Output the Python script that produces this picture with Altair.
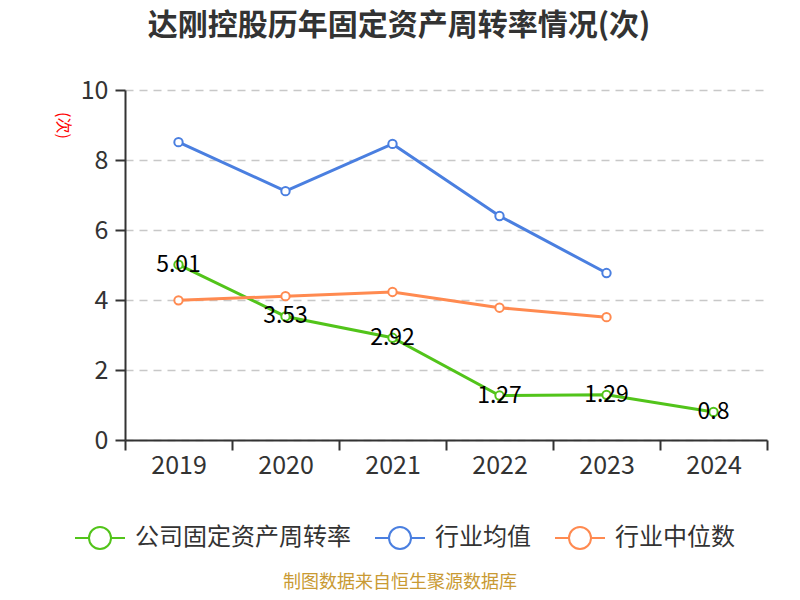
import altair as alt
import pandas as pd

years = ["2019", "2020", "2021", "2022", "2023", "2024"]
company = [5.01, 3.53, 2.92, 1.27, 1.29, 0.8]
industry_avg = [8.51, 7.11, 8.46, 6.40, 4.77, None]
industry_median = [3.99, 4.11, 4.23, 3.78, 3.51, None]
series_names = ["公司固定资产周转率", "行业均值", "行业中位数"]
colors = ["#52c41a", "#4a7fe0", "#ff8a50"]
title_text = "达刚控股历年固定资产周转率情况(次)"
source_text = "制图数据来自恒生聚源数据库"
y_ticks = [0, 2, 4, 6, 8, 10]

FONT = "Noto Sans CJK SC"

rows = []
for name, vals in zip(series_names, [company, industry_avg, industry_median]):
    for yr, v in zip(years, vals):
        if v is not None:
            rows.append({"year": yr, "value": v, "series": name})
df = pd.DataFrame(rows)
label_df = pd.DataFrame({"year": years, "value": company,
                         "label": [str(v) for v in company]})
src_df = pd.DataFrame({"text": [source_text]})

legend_symbol = ("M-1,0H-0.44 A0.44,0.44 0 1,1 0.44,0 "
                 "A0.44,0.44 0 1,1 -0.44,0 M0.44,0H1")

x = alt.X("year:N", sort=years,
          scale=alt.Scale(type="band", paddingInner=0, paddingOuter=0),
          bandPosition=0.5,
          axis=alt.Axis(title=None, tickBand="extent", labelFontSize=25,
                        labelColor="#333", labelFont=FONT, domainColor="#333",
                        domainWidth=2, tickColor="#333", tickWidth=2,
                        tickSize=10, labelPadding=3, grid=False, labelAngle=0))
y = alt.Y("value:Q", scale=alt.Scale(domain=[0, 10], nice=False),
          axis=alt.Axis(values=y_ticks, title="(次)", titleColor="red",
                        titleFontSize=16, titleFont=FONT,
                        titleFontWeight="normal", titleAngle=90,
                        titleX=-63, titleY=35, titleAlign="center",
                        titleBaseline="middle", labelFontSize=25,
                        labelFont=FONT, labelColor="#333",
                        domainColor="#333", domainWidth=2, tickColor="#333",
                        tickWidth=2, tickSize=10, labelPadding=7, grid=True,
                        gridDash=[8, 6], gridColor="#c8c8c8", gridWidth=1.5))
color = alt.Color("series:N",
                  scale=alt.Scale(domain=series_names, range=colors),
                  legend=alt.Legend(title=None, orient="none", legendX=-51,
                                    legendY=422, direction="horizontal",
                                    symbolType=legend_symbol, symbolSize=2500,
                                    symbolStrokeWidth=2,
                                    symbolFillColor="white",
                                    labelFontSize=24, labelFont=FONT,
                                    labelColor="#333", columnPadding=20,
                                    labelOffset=9, labelLimit=400, padding=0))

base = alt.Chart(df).encode(x=x, y=y, color=color)
lines = base.mark_line(strokeWidth=3)
points = base.mark_point(filled=False, fill="white", size=70,
                         strokeWidth=2, opacity=1)
labels = alt.Chart(label_df).mark_text(fontSize=23, font=FONT, color="#000",
                                       align="center", baseline="middle").encode(
    x=alt.X("year:N", sort=years, bandPosition=0.5),
    y=alt.Y("value:Q"),
    text="label:N")
source = alt.Chart(src_df).mark_text(fontSize=18, font=FONT, color="#c99a33",
                                     align="center", baseline="middle").encode(
    x=alt.value(275), y=alt.value(493), text="text:N")

chart = alt.layer(lines, points, labels, source).properties(
    width=642, height=350,
    title=alt.Title(title_text, fontSize=30, fontWeight="bold", font=FONT,
                    color="#333", anchor="middle", dx=-47, offset=37),
    autosize=alt.AutoSizeParams(type="none"),
    padding={"left": 117, "top": 82, "right": 20, "bottom": 152},
).configure_view(stroke=None)

chart.save("out.html", embed_options={"renderer": "svg", "actions": False})
